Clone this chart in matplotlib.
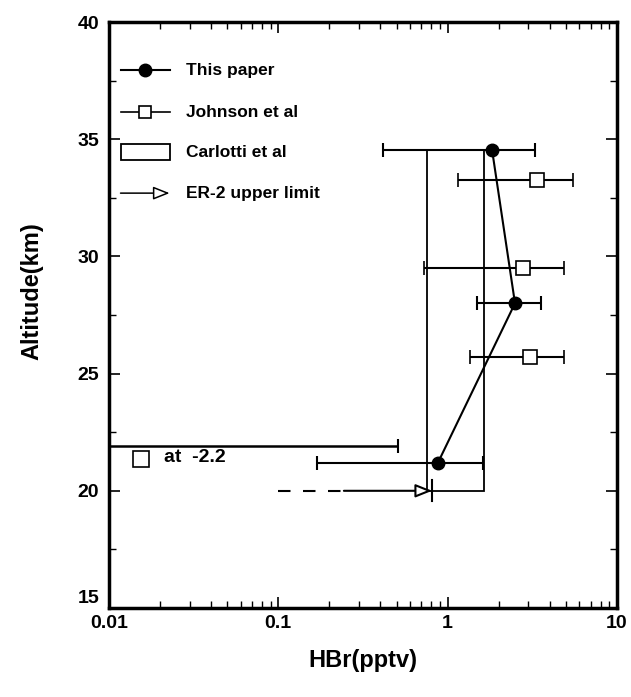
import numpy as np
import matplotlib.pyplot as plt
import matplotlib.transforms as mtransforms
from matplotlib.patches import Rectangle
from matplotlib.ticker import FixedLocator, LogLocator, NullFormatter

plt.rcParams['font.family'] = ['Liberation Sans', 'DejaVu Sans']
plt.rcParams['font.weight'] = 'bold'

# ---------------- data ----------------
# This paper
paper_x = [1.83, 2.5, 0.877]
paper_alt = [34.55, 28.0, 21.2]
paper_lo = [0.415, 1.49, 0.17]
paper_hi = [3.28, 3.56, 1.62]

# Johnson et al
john_x = [3.37, 2.79, 3.07]
john_alt = [33.25, 29.5, 25.7]
john_lo = [1.15, 0.726, 1.36]
john_hi = [5.5, 4.86, 4.86]
# Johnson point at negative value (-2.2), only upper bar visible
john_neg_alt = 21.9
john_neg_hi = 0.51

# Carlotti et al box
carl_x = [0.755, 1.64]
carl_alt = [20.0, 34.55]

# ER-2 upper limit
er2_x = 0.81
er2_alt = 20.0
er2_dash_start = 0.1
er2_solid_start = 0.244

fig = plt.figure(figsize=(6.31, 6.97), dpi=100)
ax = fig.add_axes([0.1727, 0.1277, 0.805, 0.8407])
ax.set_xscale('log')
ax.set_xlim(0.01, 10)
ax.set_ylim(15, 40)

# Carlotti box
ax.add_patch(Rectangle((carl_x[0], carl_alt[0]), carl_x[1] - carl_x[0],
                       carl_alt[1] - carl_alt[0], fill=False,
                       edgecolor='black', linewidth=1.3, zorder=2))

# This paper
p_err = [np.array(paper_x) - np.array(paper_lo), np.array(paper_hi) - np.array(paper_x)]
ax.errorbar(paper_x, paper_alt, xerr=p_err, fmt='none', ecolor='black',
            elinewidth=1.5, capsize=5, capthick=1.5, zorder=3)
ax.plot(paper_x, paper_alt, color='black', linewidth=1.5, marker='o',
        markersize=9, zorder=4)

# Johnson et al
j_err = [np.array(john_x) - np.array(john_lo), np.array(john_hi) - np.array(john_x)]
ax.errorbar(john_x, john_alt, xerr=j_err, fmt='s', color='black', mfc='white',
            mec='black', markersize=10, mew=1.2, elinewidth=1.5, capsize=5,
            capthick=1.5, zorder=3)
ax.errorbar([0.01], [john_neg_alt], xerr=[[0], [john_neg_hi - 0.01]], fmt='none',
            ecolor='black', elinewidth=1.8, capsize=5, capthick=1.5, zorder=3)
ax.plot([0.0155], [21.35], marker='s', mfc='white', mec='black', markersize=11,
        mew=1.2, linestyle='none')
ax.text(0.021, 21.4, 'at  -2.2', fontsize=14, fontweight='bold', va='center')

# ER-2 upper limit
ax.plot([er2_dash_start, er2_solid_start], [er2_alt, er2_alt], color='black',
        linewidth=1.5, linestyle=(0, (6, 6)))
ax.annotate('', xy=(er2_x, er2_alt), xytext=(er2_solid_start, er2_alt),
            arrowprops=dict(arrowstyle='-|>,head_length=1.0,head_width=0.4',
                            color='black', fc='white', lw=1.5, shrinkA=0, shrinkB=0))
ax.plot([er2_x, er2_x], [er2_alt - 0.45, er2_alt + 0.45], color='black', linewidth=1.5)

# legend (drawn by hand)
leg_y = [37.95, 36.15, 34.45, 32.7]
leg_labels = ['This paper', 'Johnson et al', 'Carlotti et al', 'ER-2 upper limit']
hx = [0.0117, 0.0228]
hmid = 10 ** np.mean(np.log10(hx))
ax.plot(hx, [leg_y[0]] * 2, color='black', linewidth=1.5)
ax.plot([hmid], [leg_y[0]], 'o', color='black', markersize=9)
ax.plot(hx, [leg_y[1]] * 2, color='black', linewidth=1.2)
ax.plot([hmid], [leg_y[1]], 's', mfc='white', mec='black', markersize=9, mew=1.2)
ax.add_patch(Rectangle((hx[0] * 1.01, leg_y[2] - 0.35), hx[1] - hx[0], 0.7,
                       fill=False, edgecolor='black', linewidth=1.3))
ax.annotate('', xy=(hx[1], leg_y[3]), xytext=(hx[0], leg_y[3]),
            arrowprops=dict(arrowstyle='-|>,head_length=1.0,head_width=0.4',
                            color='black', fc='white', lw=1.1, shrinkA=0, shrinkB=0))
for yy, lab in zip(leg_y, leg_labels):
    ax.text(0.0285, yy, lab, fontsize=12.5, fontweight='bold', va='center')

# axes styling
for s in ax.spines.values():
    s.set_linewidth(2.5)
ax.yaxis.set_major_locator(FixedLocator([15, 20, 25, 30, 35, 40]))
ax.yaxis.set_minor_locator(FixedLocator([17.5, 22.5, 27.5, 32.5, 37.5]))
ax.xaxis.set_minor_locator(LogLocator(base=10, subs=np.arange(2, 10) * 1.0))
ax.xaxis.set_minor_formatter(NullFormatter())
ax.set_xticks([0.01, 0.1, 1, 10])
ax.set_xticklabels(['0.01', '0.1', '1', '10'])
ax.tick_params(which='both', direction='in', top=True, right=True)
ax.tick_params(which='major', length=8, width=1.2, labelsize=14)
ax.tick_params(which='minor', length=5, width=1.0)
ax.tick_params(axis='x', pad=5)
ax.tick_params(axis='y', pad=7)
for lab in ax.get_xticklabels() + ax.get_yticklabels():
    lab.set_fontweight('bold')

# lift the "15" label a little like the original
fig.canvas.draw()
lift = mtransforms.ScaledTranslation(0, 8 / 72, fig.dpi_scale_trans)
for lab in ax.get_yticklabels():
    if lab.get_text() == '15':
        lab.set_transform(lab.get_transform() + lift)

ax.set_xlabel('HBr(pptv)', fontsize=17, fontweight='bold', labelpad=12)
ax.set_ylabel('Altitude(km)', fontsize=17, fontweight='bold')
ax.yaxis.set_label_coords(-0.13, 0.54)

fig.savefig('out.png', dpi=100)
